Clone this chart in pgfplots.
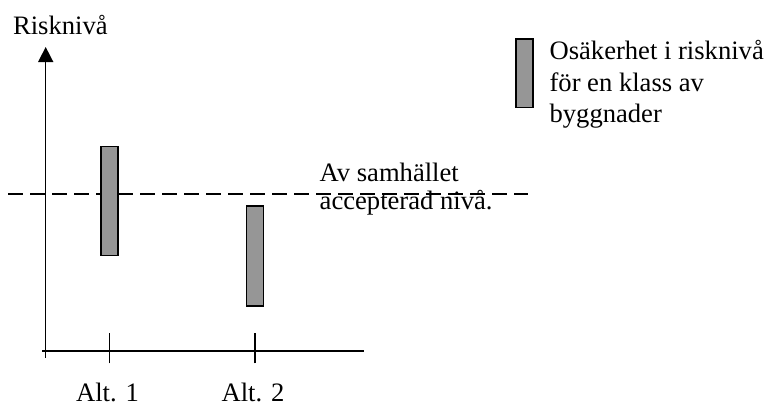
\documentclass[border=0pt]{standalone}
\usepackage{fontspec}
\setmainfont{Liberation Serif}
\usepackage{pgfplots}
\pgfplotsset{compat=1.18}
\usetikzlibrary{arrows.meta}
\definecolor{bargray}{RGB}{150,150,150}

\begin{document}
\begin{tikzpicture}[font=\fontsize{13.3pt}{14pt}\selectfont]
\begin{axis}[
  x=72.75pt, y=15.2pt,
  xmin=0.5615, xmax=2.749, ymin=0, ymax=10,
  enlargelimits=false, clip=false,
  axis lines=left,
  x axis line style={-, line width=0.75pt, shorten <=-1.85pt},
  y axis line style={-{Triangle[width=7.5pt,length=7.5pt]}, line width=0.75pt, shorten <=-3.35pt},
  ybar stacked, bar width=8.5pt,
  xtick={1,2}, xticklabels={Alt. 1,Alt. 2},
  ytick=\empty,
  major tick length=15pt, tick align=center,
  xtick style={black, line width=0.75pt, yshift=1.35pt},
  xticklabel style={anchor=base, yshift=-17.5pt, xshift=-1pt, inner sep=0pt, text depth=0pt},
  ylabel={Risknivå},
  ylabel style={rotate=-90, at={(axis cs:0.3347,10.418)}, anchor=base west, inner sep=0pt},
  legend style={at={(axis cs:3.789,10.289)}, anchor=north west, draw=none, fill=none,
    inner sep=0pt, outer sep=0pt, row sep=0pt, column sep=0pt,
    font=\fontsize{13.3pt}{14pt}\selectfont,
    nodes={inner sep=0pt, align=left},
    /tikz/every odd column/.append style={column sep=8pt}},
  legend cell align=left,
  legend image code/.code={\draw[#1] (0pt,-12.15pt) rectangle (8.5pt,22pt);},
]
% lower end of each uncertainty interval (invisible)
\addplot[draw=none, fill=none, forget plot] coordinates {(1,3.14) (2,1.48)};
% height of the interval
\addplot[draw=black, line width=0.65pt, fill=bargray] coordinates {(1,3.59) (2,3.29)};
\addlegendentry{Osäkerhet i risknivå\\[1.5pt]för en klass av\\[1.5pt]byggnader}
% accepted level
\addplot[sharp plot, stack plots=false, black, line width=0.65pt,
  dash pattern=on 7.5pt off 3.5pt, forget plot] coordinates {(0.3024,5.16) (3.876,5.16)};
\node[anchor=base west, inner sep=0pt] at (axis cs:2.442,5.592) {Av samhället};
\node[anchor=base west, inner sep=0pt] at (axis cs:2.442,4.671) {accepterad nivå.};
\coordinate (bl) at (axis cs:0.2474,-1.7105);
\coordinate (tr) at (axis cs:5.5326,11.546);
\end{axis}
\pgfresetboundingbox
\path[use as bounding box] (bl) rectangle (tr);
\end{tikzpicture}
\end{document}
